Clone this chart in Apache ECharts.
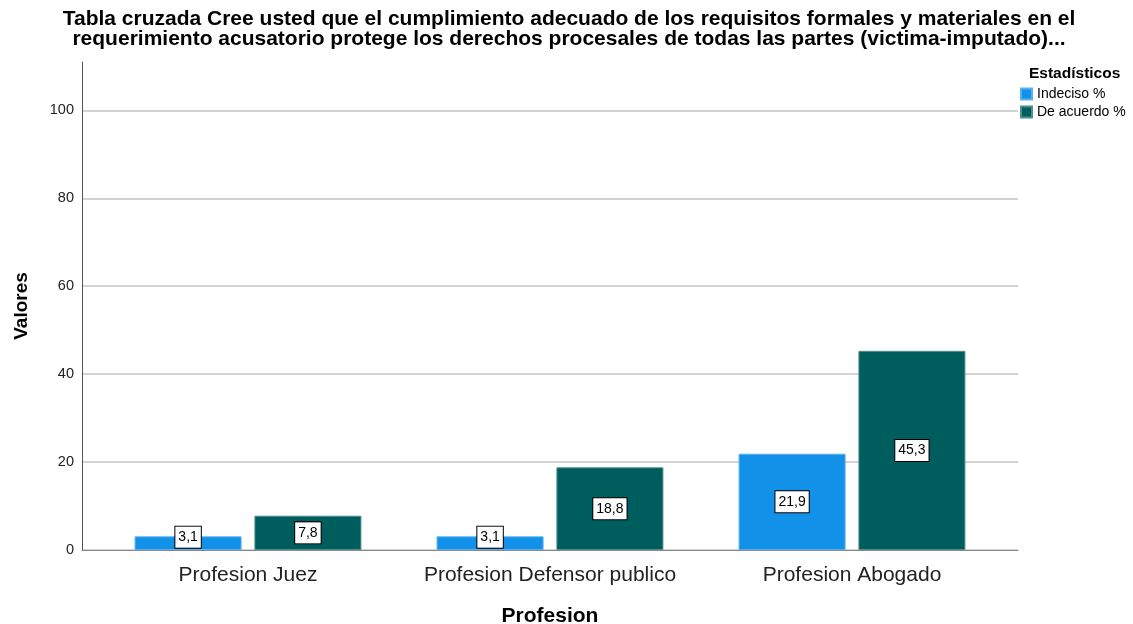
<!DOCTYPE html>
<html>
<head>
<meta charset="utf-8">
<script src="https://cdn.jsdelivr.net/npm/echarts@6/dist/echarts.min.js"></script>
<style>
  html, body { margin: 0; padding: 0; background: #fff; }
  #chart { width: 1133px; height: 624px; }
</style>
</head>
<body>
<div id="chart"></div>
<script>
// Data
const categories = ['Profesion Juez', 'Profesion Defensor publico', 'Profesion Abogado']
const indecisoPct = [3.1, 3.1, 21.9]
const deAcuerdoPct = [7.8, 18.8, 45.3]
const seriesNames = ['Indeciso %', 'De acuerdo %']

const chart = echarts.init(document.getElementById('chart'))
const fontFamily = '"Liberation Sans", Arial, sans-serif'
const yMax = 111

// Value label: white box with black border, in the middle of the bar
const valueLabel = {
  show: true,
  position: 'inside',
  formatter: p => String(p.value).replace('.', ','),
  color: '#000',
  fontSize: 14,
  fontFamily: fontFamily,
  backgroundColor: '#fff',
  borderColor: '#000',
  borderWidth: 1,
  padding: [4, 3, 3, 3]
}

const option = {
  animation: false,
  textStyle: { fontFamily: fontFamily },
  title: [
    {
      text: 'Tabla cruzada Cree usted que el cumplimiento adecuado de los requisitos formales y materiales en el\nrequerimiento acusatorio protege los derechos procesales de todas las partes (victima-imputado)...',
      left: 569,
      textAlign: 'center',
      top: 9,
      padding: 0,
      textStyle: { fontSize: 21, fontWeight: 'bold', color: '#000', lineHeight: 20, fontFamily: fontFamily }
    },
    {
      text: 'Estadísticos',
      left: 1029,
      top: 66,
      padding: 0,
      textStyle: { fontSize: 15.5, fontWeight: 'bold', color: '#000', fontFamily: fontFamily }
    }
  ],
  legend: {
    data: seriesNames,
    orient: 'vertical',
    left: 1020,
    top: 87,
    padding: 0,
    itemWidth: 11,
    itemHeight: 11,
    itemGap: 4,
    icon: 'rect',
    selectedMode: false,
    textStyle: { fontSize: 14, color: '#000', padding: [0, 0, 0, 0], fontFamily: fontFamily }
  },
  // grid 0: frame, gridlines and axis lines; grid 1: the bars, inset like SPSS does
  grid: [
    { left: 82, right: 115, top: 62, bottom: 74, outerBoundsMode: 'none', containLabel: false },
    { left: 97, right: 130, top: 62, bottom: 74, outerBoundsMode: 'none', containLabel: false }
  ],
  xAxis: [
    {
      gridIndex: 0,
      type: 'category',
      data: categories,
      axisLine: { lineStyle: { color: '#888', width: 1 } },
      axisTick: { show: false },
      axisLabel: { show: false }
    },
    {
      gridIndex: 1,
      type: 'category',
      data: categories,
      name: 'Profesion',
      nameLocation: 'middle',
      nameGap: 56,
      nameTextStyle: { fontSize: 21, fontWeight: 'bold', color: '#000' },
      axisLine: { show: false },
      axisTick: { show: false },
      axisLabel: { fontSize: 21, color: '#222', margin: 15, interval: 0 }
    }
  ],
  yAxis: [
    {
      gridIndex: 0,
      type: 'value',
      min: 0,
      max: yMax,
      interval: 20,
      name: 'Valores',
      nameLocation: 'middle',
      nameGap: 51,
      nameTextStyle: { fontSize: 19, fontWeight: 'bold', color: '#000' },
      axisLine: { show: true, lineStyle: { color: '#555', width: 1 } },
      axisTick: { show: false },
      axisLabel: {
        fontSize: 14.5,
        color: '#222',
        margin: 8,
        formatter: v => (v % 20 === 0 ? String(v) : '')
      },
      splitLine: { show: true, showMaxLine: false, lineStyle: { color: '#d3d3d3', width: 2 } }
    },
    {
      gridIndex: 1,
      type: 'value',
      min: 0,
      max: yMax,
      interval: 20,
      show: false
    }
  ],
  series: [
    {
      name: seriesNames[0],
      type: 'bar',
      xAxisIndex: 1,
      yAxisIndex: 1,
      data: indecisoPct,
      barWidth: 107,
      barGap: '12%',
      itemStyle: { color: '#1192e8', borderColor: '#5ab0ee', borderWidth: 1 },
      label: valueLabel,
      // small bars: lift the label box so it stays above the axis line
      labelLayout: p => (p.rect.height < 22 ? { dy: -6 } : {})
    },
    {
      name: seriesNames[1],
      type: 'bar',
      xAxisIndex: 1,
      yAxisIndex: 1,
      data: deAcuerdoPct,
      barWidth: 107,
      barGap: '12%',
      itemStyle: { color: '#005d5d', borderColor: '#4d8e8e', borderWidth: 1 },
      label: valueLabel
    }
  ]
}

chart.setOption(option)
</script>
</body>
</html>
